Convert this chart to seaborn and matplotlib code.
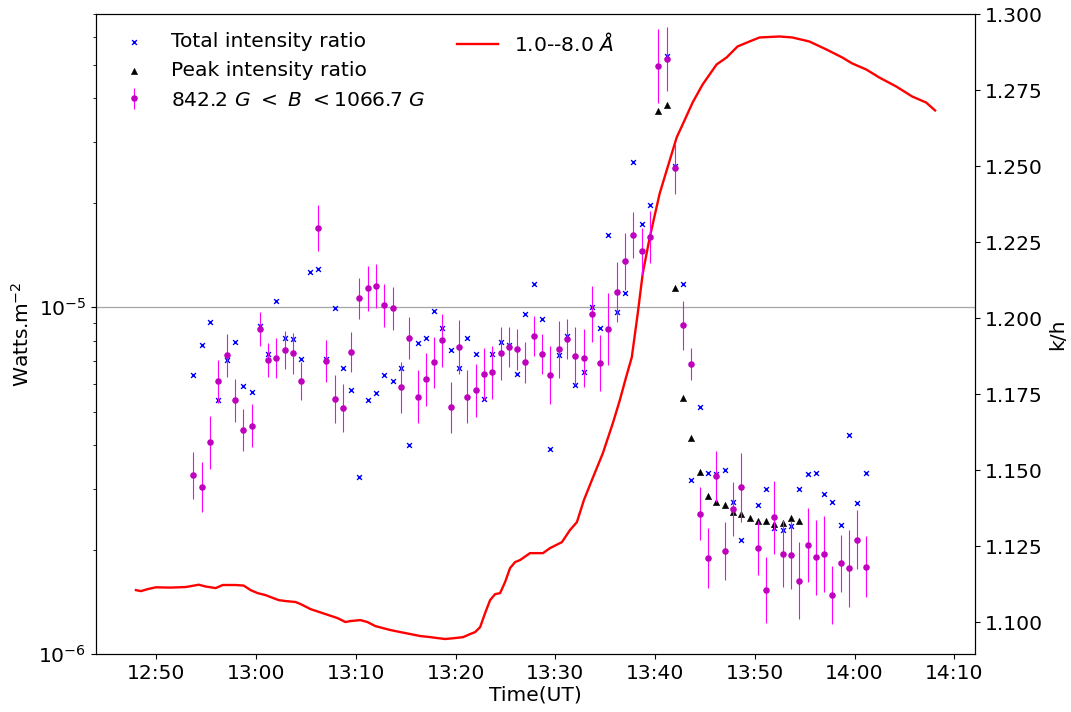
import numpy as np
import pandas as pd
import matplotlib
matplotlib.use("Agg")
import matplotlib.pyplot as plt
import matplotlib.dates as mdates
import seaborn as sns

nan = np.nan
DATE = "2000-01-01 "

# GOES 1.0--8.0 A flux (W m^-2, in units of 1e-6)
goes_time = ["12:47:58","12:48:28","12:49:10","12:49:58","12:51:28","12:52:58","12:54:16","12:54:58","12:55:58","12:56:40",
             "12:57:58","12:58:46","12:59:28","13:00:10","13:00:58","13:02:16","13:02:58","13:03:58","13:04:28","13:05:28",
             "13:06:58","13:08:10","13:08:58","13:09:28","13:10:28","13:11:10","13:11:58","13:13:28","13:14:28","13:15:28",
             "13:16:28","13:17:28","13:18:10","13:18:58","13:19:58","13:20:46","13:21:28","13:21:58","13:22:28","13:22:58",
             "13:23:28","13:23:58","13:24:28","13:24:58","13:25:28","13:25:58","13:26:28","13:27:28","13:28:46","13:29:28",
             "13:30:40","13:31:28","13:32:10","13:32:52","13:33:40","13:34:46","13:35:46","13:36:28","13:37:04","13:37:40",
             "13:38:16","13:38:46","13:39:28","13:40:28","13:41:28","13:42:10","13:42:46","13:43:46","13:44:46","13:46:10",
             "13:47:10","13:48:16","13:49:28","13:50:28","13:52:28","13:53:46","13:55:28","13:57:10","13:58:46","13:59:46",
             "14:01:10","14:02:28","14:04:10","14:05:46","14:07:10","14:08:04"]
goes_flux_e6 = [1.531,1.521,1.542,1.560,1.557,1.563,1.587,1.568,1.552,1.584,
                1.584,1.578,1.531,1.501,1.481,1.433,1.424,1.415,1.396,1.350,
                1.306,1.272,1.239,1.247,1.255,1.239,1.206,1.175,1.159,1.144,
                1.129,1.121,1.114,1.107,1.114,1.121,1.144,1.159,1.198,1.315,
                1.433,1.491,1.501,1.615,1.772,1.844,1.869,1.957,1.957,2.023,
                2.105,2.280,2.404,2.782,3.176,3.798,4.634,5.398,6.246,7.178,
                9.61,12.53,15.91,21.30,26.50,30.87,33.65,38.92,43.86,50.08,
                52.46,56.44,58.34,59.91,60.31,59.91,58.34,55.34,52.46,50.42,
                48.45,45.95,43.29,40.51,38.92,36.92]

# k/h observations
obs_time = ["12:53:44","12:54:34","12:55:24","12:56:14","12:57:04","12:57:54","12:58:44","12:59:34","13:00:24","13:01:14",
            "13:02:03","13:02:53","13:03:43","13:04:33","13:05:23","13:06:13","13:07:03","13:07:53","13:08:43","13:09:33",
            "13:10:22","13:11:12","13:12:02","13:12:52","13:13:42","13:14:32","13:15:22","13:16:12","13:17:02","13:17:52",
            "13:18:41","13:19:31","13:20:21","13:21:11","13:22:01","13:22:51","13:23:41","13:24:31","13:25:21","13:26:11",
            "13:27:00","13:27:50","13:28:40","13:29:30","13:30:20","13:31:10","13:32:00","13:32:50","13:33:40","13:34:30",
            "13:35:19","13:36:09","13:36:59","13:37:49","13:38:39","13:39:29","13:40:19","13:41:09","13:41:59","13:42:49",
            "13:43:38","13:44:28","13:45:18","13:46:08","13:46:58","13:47:48","13:48:38","13:49:28","13:50:18","13:51:08",
            "13:51:57","13:52:47","13:53:37","13:54:27","13:55:17","13:56:07","13:56:57","13:57:47","13:58:37","13:59:27",
            "14:00:16","14:01:06"]

total_ratio = [1.1813,1.1912,1.1988,1.1729,1.1862,1.1921,1.1776,1.1756,1.1974,1.1881,
               1.2057,1.1933,1.1931,1.1865,1.2151,1.2160,1.1867,1.2034,1.1836,1.1762,
               1.1477,1.1729,1.1754,1.1813,1.1792,1.1835,1.1582,1.1918,1.1934,1.2022,
               1.1967,1.1894,1.1837,1.1933,1.1883,1.1735,1.1883,1.1920,1.1913,1.1817,
               1.2012,1.2112,1.1998,1.1570,1.1879,1.1942,1.1779,1.1823,1.2036,1.1966,
               1.2274,1.2021,1.2082,1.2513,1.2308,1.2373,nan,1.2863,1.2500,1.2111,
               1.1467,1.1706,1.1489,1.1488,1.1499,1.1395,1.1271,nan,1.1385,1.1438,
               1.1310,1.1303,1.1317,1.1438,1.1487,1.1491,1.1420,1.1395,1.1321,1.1615,
               1.1392,1.1491]

peak_time = obs_time[56:74]
peak_ratio = [1.2682,1.2700,1.2098,1.1736,1.1604,1.1493,1.1414,1.1394,1.1384,1.1363,
              1.1354,1.1344,1.1333,1.1333,1.1322,1.1325,1.1344,1.1333]

mag_ratio = [1.1483,1.1445,1.1591,1.1792,1.1878,1.1730,1.1632,1.1646,1.1963,1.1861,
             1.1868,1.1895,1.1884,1.1793,nan,1.2296,1.1859,1.1733,1.1704,1.1888,
             1.2065,1.2098,1.2105,1.2042,1.2032,1.1772,1.1934,1.1742,1.1798,1.1855,
             1.1927,1.1707,1.1906,1.1741,1.1762,1.1816,1.1821,1.1884,1.1906,1.1897,
             1.1855,1.1941,1.1882,1.1812,1.1897,1.1931,1.1876,1.1868,1.2013,1.1853,
             1.1963,1.2086,1.2187,1.2274,1.2219,1.2266,1.2829,1.2853,1.2492,1.1976,
             1.1849,1.1356,1.1210,1.1480,1.1233,1.1372,1.1443,nan,1.1243,1.1106,
             1.1345,1.1225,1.1221,1.1136,1.1253,1.1213,1.1225,1.1089,1.1193,1.1177,
             1.1271,1.1182]
mag_err = [0.0077,0.0082,0.0087,0.0071,0.0071,0.0071,0.0069,0.0071,0.0056,0.0056,
           0.0066,0.0064,0.0067,0.0064,nan,0.0076,0.0069,0.0079,0.0079,0.0067,
           0.0067,0.0074,0.0072,0.0071,0.0071,0.0084,0.0069,0.0086,0.0087,0.0084,
           0.0087,0.0084,0.0089,0.0087,0.0086,0.0084,0.0087,0.0087,0.0066,0.0067,
           0.0067,0.0067,0.0067,0.0095,0.0094,0.0067,0.0095,0.0095,0.0092,0.0092,
           0.0118,0.0100,0.0094,0.0076,0.0076,0.0086,0.0122,0.0105,0.0084,0.0081,
           0.0053,0.0087,0.0099,0.0084,0.0095,0.0089,0.0113,nan,0.0089,0.0109,
           0.0120,0.0110,0.0113,0.0127,0.0122,0.0123,0.0125,0.0095,0.0095,0.0127,
           0.0097,0.0100]

flux_label = r"1.0--8.0 $\AA$"
total_label = "Total intensity ratio"
peak_label = "Peak intensity ratio"
mag_label = r"842.2 $G\ <\ B\ <$1066.7 $G$"

# ---------------------------------------------------------------
FS = 14.6
plt.rcParams["font.size"] = FS

goes_dt = pd.to_datetime([DATE + t for t in goes_time])
obs_dt = pd.to_datetime([DATE + t for t in obs_time])
peak_dt = pd.to_datetime([DATE + t for t in peak_time])
goes_df = pd.DataFrame({"time": goes_dt, "flux": np.array(goes_flux_e6) * 1e-6})
tot_df = pd.DataFrame({"time": obs_dt, "ratio": total_ratio})
peak_df = pd.DataFrame({"time": peak_dt, "ratio": peak_ratio})

fig = plt.figure(figsize=(10.71, 7.12), dpi=100)
ax = fig.add_axes([0.0896, 0.081, 0.8208, 0.8993])

sns.lineplot(data=goes_df, x="time", y="flux", ax=ax, color="red", lw=1.7,
             label=flux_label, legend=False)
ax.set_yscale("log")
ax.set_ylim(1e-6, 7e-5)
ax.axhline(1e-5, color="0.65", lw=0.9, zorder=0)

ax2 = ax.twinx()
sns.scatterplot(data=tot_df, x="time", y="ratio", ax=ax2, marker="x", color="b",
                s=12, linewidth=1.0, label=total_label, legend=False)
sns.scatterplot(data=peak_df, x="time", y="ratio", ax=ax2, marker="^", color="k",
                s=20, edgecolor="k", linewidth=0.4, label=peak_label, legend=False)
eb = ax2.errorbar(obs_dt, mag_ratio, yerr=mag_err, fmt="o", color="m", ms=3.7,
                  ecolor="magenta", elinewidth=0.8, capsize=0, label=mag_label)
ax2.set_ylim(1.0894, 1.300)

ax.xaxis.set_major_locator(mdates.MinuteLocator(byminute=range(0, 60, 10)))
ax.xaxis.set_major_formatter(mdates.DateFormatter("%H:%M"))

ax.set_xlabel("Time(UT)", fontsize=FS, labelpad=2)
ax.set_ylabel("Watts.m$^{-2}$", fontsize=FS)
ax2.set_ylabel("k/h", fontsize=FS)
ax2.set_xlabel("")
ax.tick_params(labelsize=FS)
ax2.tick_params(labelsize=FS)

h, l = ax2.get_legend_handles_labels()
order = [l.index(total_label), l.index(peak_label), l.index(mag_label)]
ax2.legend([h[i] for i in order], [l[i] for i in order], loc="upper left",
           frameon=False, fontsize=FS)
ax.legend(loc="upper center", frameon=False, fontsize=FS)

fig.savefig("out.png", dpi=100)
